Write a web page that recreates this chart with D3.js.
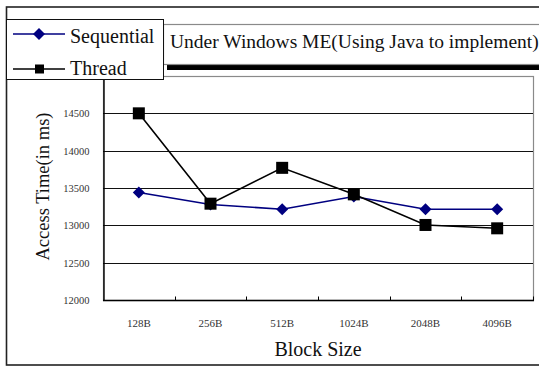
<!DOCTYPE html>
<html>
<head>
<meta charset="utf-8">
<script src="https://cdn.jsdelivr.net/npm/d3@7/dist/d3.min.js"></script>
<style>
  html, body { margin: 0; padding: 0; background: #fff; }
  svg { display: block; }
</style>
</head>
<body>
<svg id="chart" width="539" height="368"></svg>
<script>
// Block sizes tested and measured access times (ms)
const categories = ["128B", "256B", "512B", "1024B", "2048B", "4096B"];
const sequential = [13440, 13280, 13215, 13385, 13215, 13215];
const thread     = [14500, 13290, 13770, 13415, 13005, 12960];
const yTicks     = [12000, 12500, 13000, 13500, 14000, 14500];
const seriesNames = ["Sequential", "Thread"];
const titleText = "Under Windows ME(Using Java to implement)";
const xTitle = "Block Size";
const yTitle = "Access Time(in ms)";

const SERIF = "'Liberation Serif', 'Times New Roman', Times, serif";

const svg = d3.select("#chart");

// Outer frame
svg.append("rect")
  .attr("x", 6.5).attr("y", 7).attr("width", 540).attr("height", 358)
  .attr("fill", "none").attr("stroke", "#222").attr("stroke-width", 1.6);

// Plot area
const plot = { left: 103, right: 533, top: 76, bottom: 300 };

const x = d3.scaleBand().domain(categories).range([plot.left, plot.right]);
const y = d3.scaleLinear().domain([12000, 15000]).range([plot.bottom, plot.top]);

// Plot area border (top & right in grey)
svg.append("rect")
  .attr("x", plot.left + 0.5).attr("y", y(15000) + 0.5)
  .attr("width", plot.right - plot.left).attr("height", plot.bottom - plot.top)
  .attr("fill", "#fff").attr("stroke", "#8a8a8a").attr("stroke-width", 1.2);

// Horizontal gridlines
svg.append("g")
  .selectAll("line")
  .data(yTicks.filter(v => v > 12000))
  .join("line")
  .attr("x1", plot.left).attr("x2", plot.right)
  .attr("y1", d => Math.round(y(d)) + 0.5).attr("y2", d => Math.round(y(d)) + 0.5)
  .attr("stroke", "#111").attr("stroke-width", 1);

// Y axis
const yAxis = d3.axisLeft(y).tickValues(yTicks).tickFormat(d3.format("d"))
  .tickSize(0).tickPadding(14);
const gy = svg.append("g")
  .attr("transform", `translate(${plot.left + 0.5},0)`)
  .call(yAxis);
gy.attr("font-family", SERIF).attr("font-size", 10.5);
gy.select(".domain").attr("stroke", "#000").attr("stroke-width", 1.4);
gy.selectAll("text").attr("fill", "#333");

// X axis with inward boundary ticks
const xAxisG = svg.append("g").attr("transform", `translate(0,${plot.bottom + 0.5})`);
xAxisG.append("line")
  .attr("x1", plot.left).attr("x2", plot.right + 1)
  .attr("stroke", "#000").attr("stroke-width", 1.6);
const bounds = categories.map(c => x(c)).concat([plot.right]);
xAxisG.selectAll("line.tick")
  .data(bounds.slice(1))
  .join("line")
  .attr("class", "tick")
  .attr("x1", d => Math.round(d) + 0.5).attr("x2", d => Math.round(d) + 0.5)
  .attr("y1", 0).attr("y2", -4)
  .attr("stroke", "#000").attr("stroke-width", 1);
xAxisG.selectAll("text")
  .data(categories)
  .join("text")
  .attr("x", d => x(d) + x.bandwidth() / 2)
  .attr("y", 26)
  .attr("text-anchor", "middle")
  .attr("font-family", SERIF).attr("font-size", 11).attr("fill", "#333")
  .text(d => d);

// Axis titles
svg.append("text")
  .attr("x", (plot.left + plot.right) / 2).attr("y", 356)
  .attr("text-anchor", "middle")
  .attr("font-family", SERIF).attr("font-size", 20).attr("fill", "#111")
  .text(xTitle);
svg.append("text")
  .attr("transform", "translate(49,186.5) rotate(-90)")
  .attr("text-anchor", "middle")
  .attr("font-family", SERIF).attr("font-size", 18.5).attr("fill", "#111")
  .text(yTitle);

// Series lines
const cx = d => x(d) + x.bandwidth() / 2;
const line = d3.line().x((v, i) => cx(categories[i])).y(v => y(v));

svg.append("path").datum(sequential)
  .attr("d", line).attr("fill", "none")
  .attr("stroke", "#000080").attr("stroke-width", 1.6);
svg.append("path").datum(thread)
  .attr("d", line).attr("fill", "none")
  .attr("stroke", "#000").attr("stroke-width", 1.6);

function diamondPath(s) { return `M0,${-s}L${s},0L0,${s}L${-s},0Z`; }

svg.append("g").selectAll("path")
  .data(sequential)
  .join("path")
  .attr("transform", (v, i) => `translate(${cx(categories[i])},${y(v)})`)
  .attr("d", diamondPath(6))
  .attr("fill", "#000080");

svg.append("g").selectAll("rect")
  .data(thread)
  .join("rect")
  .attr("x", (v, i) => cx(categories[i]) - 6)
  .attr("y", v => y(v) - 6)
  .attr("width", 12).attr("height", 12)
  .attr("fill", "#000");

// Title box with heavy shadow underneath
svg.append("rect")
  .attr("x", 167).attr("y", 64).attr("width", 380).attr("height", 6)
  .attr("fill", "#000");
svg.append("rect")
  .attr("x", 163.5).attr("y", 24.5).attr("width", 380).attr("height", 40)
  .attr("fill", "#fff").attr("stroke", "#8a8a8a").attr("stroke-width", 1.2);
svg.append("text")
  .attr("x", 170).attr("y", 48)
  .attr("font-family", SERIF).attr("font-size", 19.5).attr("fill", "#111")
  .text(titleText);

// Legend
const legend = svg.append("g");
legend.append("rect")
  .attr("x", 6.5).attr("y", 19.5).attr("width", 157).attr("height", 60)
  .attr("fill", "#fff").attr("stroke", "#111").attr("stroke-width", 1);
const legendRows = [
  { name: seriesNames[0], color: "#000080", y: 34, base: 43, marker: "diamond" },
  { name: seriesNames[1], color: "#000", y: 69, base: 75, marker: "square" }
];
legendRows.forEach(r => {
  legend.append("line")
    .attr("x1", 13).attr("x2", 65).attr("y1", r.y).attr("y2", r.y)
    .attr("stroke", r.color).attr("stroke-width", 1.6);
  if (r.marker === "diamond") {
    legend.append("path").attr("transform", `translate(39,${r.y})`)
      .attr("d", diamondPath(6)).attr("fill", r.color);
  } else {
    legend.append("rect").attr("x", 35).attr("y", r.y - 4.5)
      .attr("width", 9).attr("height", 9).attr("fill", r.color);
  }
  legend.append("text")
    .attr("x", 70).attr("y", r.base)
    .attr("font-family", SERIF).attr("font-size", 20).attr("fill", "#111")
    .text(r.name);
});
</script>
</body>
</html>
